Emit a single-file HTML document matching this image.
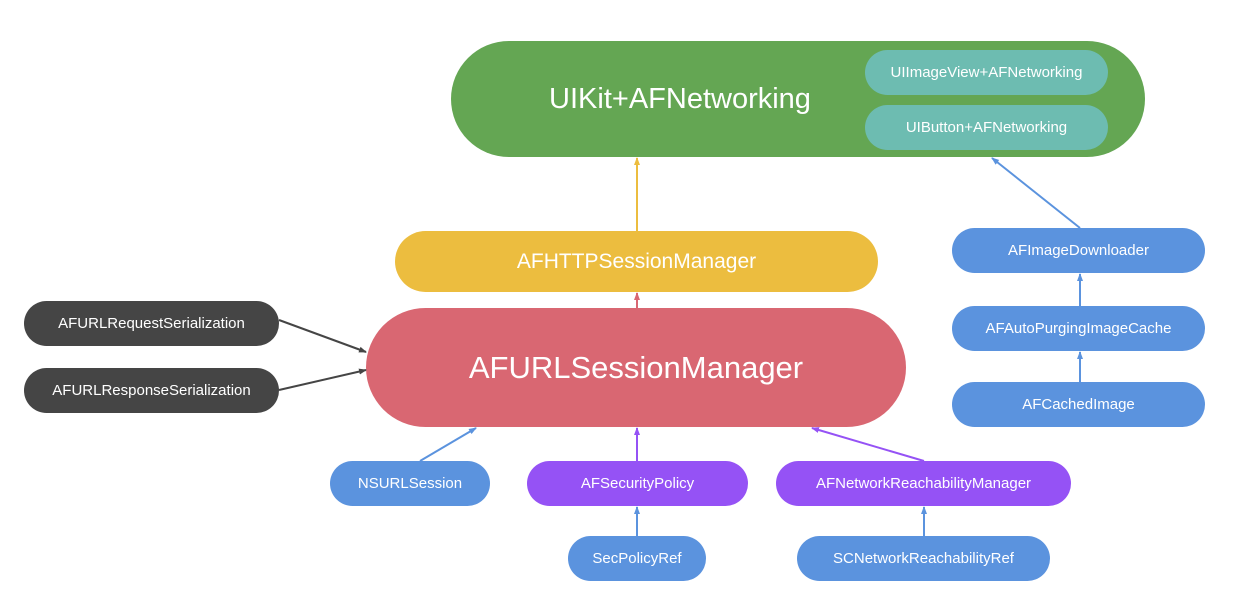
<!DOCTYPE html>
<html><head><meta charset="utf-8"><style>
body{margin:0;width:1241px;height:610px;background:#fff;overflow:hidden;position:relative;font-family:"Liberation Sans",sans-serif}
.p{position:absolute;display:flex;align-items:center;justify-content:center;color:#fff;box-sizing:border-box;white-space:nowrap}
.s{font-size:15px;border-radius:23px;height:45px}
.b{background:#5b93de}.v{background:#9552f5}.d{background:#454545}.t{background:#6dbcb1}
svg{position:absolute;left:0;top:0}
</style></head><body>
<div class="p" style="left:451px;top:41px;width:694px;height:116px;border-radius:58px;background:#64a653;"></div>
<div class="p" style="left:530px;top:78px;width:300px;height:42px;font-size:29px">UIKit+AFNetworking</div>
<div class="p s t" style="left:865px;top:50px;width:243px">UIImageView+AFNetworking</div>
<div class="p s t" style="left:865px;top:105px;width:243px">UIButton+AFNetworking</div>
<div class="p" style="left:395px;top:231px;width:483px;height:61px;border-radius:31px;background:#ecbd3f;font-size:21px">AFHTTPSessionManager</div>
<div class="p" style="left:366px;top:308px;width:540px;height:119px;border-radius:60px;background:#d96772;font-size:31px">AFURLSessionManager</div>
<div class="p s d" style="left:24px;top:301px;width:255px">AFURLRequestSerialization</div>
<div class="p s d" style="left:24px;top:368px;width:255px">AFURLResponseSerialization</div>
<div class="p s b" style="left:330px;top:461px;width:160px">NSURLSession</div>
<div class="p s v" style="left:527px;top:461px;width:221px">AFSecurityPolicy</div>
<div class="p s v" style="left:776px;top:461px;width:295px">AFNetworkReachabilityManager</div>
<div class="p s b" style="left:568px;top:536px;width:138px">SecPolicyRef</div>
<div class="p s b" style="left:797px;top:536px;width:253px">SCNetworkReachabilityRef</div>
<div class="p s b" style="left:952px;top:228px;width:253px">AFImageDownloader</div>
<div class="p s b" style="left:952px;top:306px;width:253px">AFAutoPurgingImageCache</div>
<div class="p s b" style="left:952px;top:382px;width:253px">AFCachedImage</div>
<svg width="1241" height="610">
<defs>
<marker id="y" markerWidth="8" markerHeight="8" refX="7" refY="4" orient="auto" markerUnits="userSpaceOnUse"><path d="M0,1 L8,4 L0,7z" fill="#ecbd3f"/></marker>
<marker id="r" markerWidth="8" markerHeight="8" refX="7" refY="4" orient="auto" markerUnits="userSpaceOnUse"><path d="M0,1 L8,4 L0,7z" fill="#d96772"/></marker>
<marker id="bl" markerWidth="8" markerHeight="8" refX="7" refY="4" orient="auto" markerUnits="userSpaceOnUse"><path d="M0,1 L8,4 L0,7z" fill="#5b93de"/></marker>
<marker id="pu" markerWidth="8" markerHeight="8" refX="7" refY="4" orient="auto" markerUnits="userSpaceOnUse"><path d="M0,1 L8,4 L0,7z" fill="#9552f5"/></marker>
<marker id="dk" markerWidth="8" markerHeight="8" refX="7" refY="4" orient="auto" markerUnits="userSpaceOnUse"><path d="M0,1 L8,4 L0,7z" fill="#454545"/></marker>
</defs>
<g stroke-width="2" fill="none">
<line x1="637" y1="231" x2="637" y2="158" stroke="#ecbd3f" marker-end="url(#y)"/>
<line x1="637" y1="308" x2="637" y2="293" stroke="#d96772" marker-end="url(#r)"/>
<line x1="1080" y1="228" x2="992" y2="158" stroke="#5b93de" marker-end="url(#bl)"/>
<line x1="1080" y1="306" x2="1080" y2="274" stroke="#5b93de" marker-end="url(#bl)"/>
<line x1="1080" y1="382" x2="1080" y2="352" stroke="#5b93de" marker-end="url(#bl)"/>
<line x1="279" y1="320" x2="366" y2="352" stroke="#454545" marker-end="url(#dk)"/>
<line x1="279" y1="390" x2="366" y2="370" stroke="#454545" marker-end="url(#dk)"/>
<line x1="420" y1="461" x2="476" y2="428" stroke="#5b93de" marker-end="url(#bl)"/>
<line x1="637" y1="461" x2="637" y2="428" stroke="#9552f5" marker-end="url(#pu)"/>
<line x1="924" y1="461" x2="812" y2="428" stroke="#9552f5" marker-end="url(#pu)"/>
<line x1="637" y1="536" x2="637" y2="507" stroke="#5b93de" marker-end="url(#bl)"/>
<line x1="924" y1="536" x2="924" y2="507" stroke="#5b93de" marker-end="url(#bl)"/>
</g>
</svg>
</body></html>
